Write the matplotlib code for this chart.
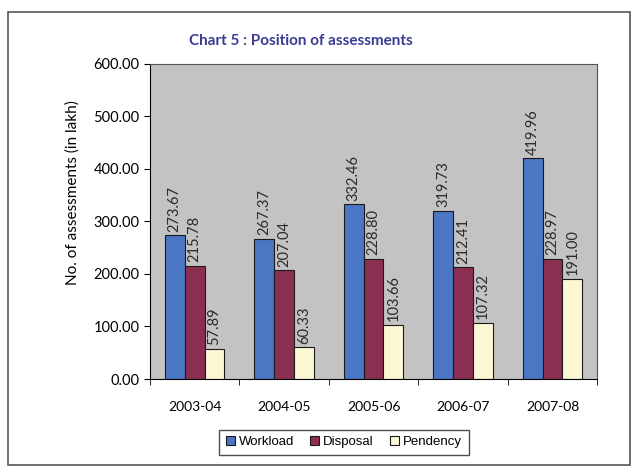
import numpy as np
import matplotlib.pyplot as plt
from matplotlib.patches import Rectangle

years = ["2003-04", "2004-05", "2005-06", "2006-07", "2007-08"]
workload = [273.67, 267.37, 332.46, 319.73, 419.96]
disposal = [215.78, 207.04, 228.80, 212.41, 228.97]
pendency = [57.89, 60.33, 103.66, 107.32, 191.00]

series = [("Workload", workload, "#4a76c4"),
          ("Disposal", disposal, "#8b2f52"),
          ("Pendency", pendency, "#fdf8d4")]

fig = plt.figure(figsize=(6.38, 4.72), dpi=100)
fig.patches.append(Rectangle((0.013, 0.015), 0.974, 0.96, transform=fig.transFigure,
                             fill=False, edgecolor="#555555", linewidth=1.2))

ax = fig.add_axes([0.235, 0.197, 0.701, 0.668])
ax.set_facecolor("#c3c3c3")

x = np.arange(len(years))
w = 0.222
for i, (name, vals, col) in enumerate(series):
    pos = x + (i - 1) * w
    bars = ax.bar(pos, vals, w, color=col, edgecolor="#1a1a1a", linewidth=0.8, label=name)
    for b, v in zip(bars, vals):
        ax.text(b.get_x() + b.get_width() / 2, v + 7, f"{v:.2f}", rotation=90,
                ha="center", va="bottom", fontsize=10.5, family="Lato", color="#2a2a2a")

ax.set_xlim(-0.5, 4.5)
ax.set_ylim(0, 600)
ax.set_yticks(range(0, 601, 100))
ax.set_yticklabels([f"{v:.2f}" for v in range(0, 601, 100)], family="Lato", fontsize=10.5)
ax.set_xticks(x)
ax.set_xticklabels(years, family="Lato", fontsize=10)
ax.tick_params(axis="x", which="major", length=0, pad=16)
ax.set_xticks(np.arange(-0.5, 5, 1), minor=True)
ax.tick_params(axis="x", which="minor", length=4, direction="out")
ax.tick_params(axis="y", length=4, direction="out")
for s in ["top", "right"]:
    ax.spines[s].set_color("#555555")
ax.set_ylabel("No. of assessments (in lakh)", family="Lato", fontsize=11)
ax.yaxis.set_label_coords(-0.174, 0.59)
ax.yaxis.label.set_va("center")

fig.text(0.472, 0.913, "Chart 5 : Position of assessments", ha="center", va="center",
         family="Lato", fontweight="bold", fontsize=11, color="#3b3b94")

leg = fig.legend(loc="center", bbox_to_anchor=(0.539, 0.063), ncol=3, frameon=True,
                 fancybox=False, edgecolor="#222222", handlelength=0.7, handleheight=0.7,
                 handletextpad=0.3, columnspacing=1.2, borderpad=0.5,
                 prop={"family": "Liberation Sans", "size": 9.5})

fig.savefig("out.png", dpi=100)
